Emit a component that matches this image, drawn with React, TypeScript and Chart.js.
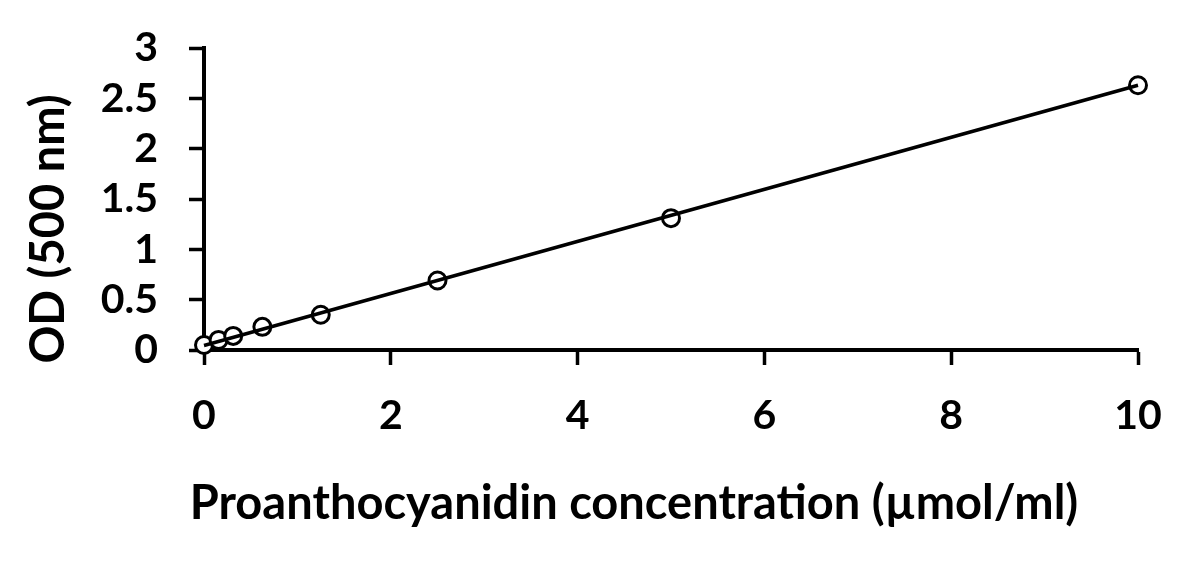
import React, { useEffect, useRef } from "react";
import { Chart, registerables } from "chart.js";

Chart.register(...registerables);

// ---- data ----
const concentrations = [0, 0.156, 0.3125, 0.625, 1.25, 2.5, 5, 10];
const odValues = [0.05, 0.1, 0.14, 0.23, 0.35, 0.69, 1.31, 2.63];
const trendX = [0, 10];
const trendY = [0.045, 2.63];
const xTickValues = [0, 2, 4, 6, 8, 10];
const yTickValues = [0, 0.5, 1, 1.5, 2, 2.5, 3];
const xTitle = "Proanthocyanidin concentration (µmol/ml)";
const yTitle = "OD (500 nm)";

const FONT = "Lato";
const W = 1187;
const H = 562;

export default function App() {
  const ref = useRef<HTMLCanvasElement | null>(null);

  useEffect(() => {
    const canvas = ref.current;
    if (!canvas) return;

    const titlePlugin = {
      id: "axisTitles",
      afterDraw(chart: any) {
        const { ctx } = chart;
        ctx.save();
        ctx.fillStyle = "#000";
        ctx.font = `bold 47px ${FONT}`;
        ctx.textAlign = "center";
        ctx.textBaseline = "middle";
        ctx.fillText(xTitle, 634, 504);
        ctx.translate(49, 229);
        ctx.rotate(-Math.PI / 2);
        ctx.fillText(yTitle, 0, 0);
        ctx.restore();
      },
    };

    const chart = new Chart(canvas, {
      type: "scatter",
      data: {
        datasets: [
          {
            type: "line",
            label: "fit",
            data: trendX.map((x, i) => ({ x, y: trendY[i] })),
            borderColor: "#000",
            borderWidth: 3.5,
            pointRadius: 0,
            fill: false,
            order: 0,
            clip: false as any,
          },
          {
            label: "OD",
            data: concentrations.map((x, i) => ({ x, y: odValues[i] })),
            showLine: false,
            pointRadius: 8.5,
            pointBorderWidth: 3,
            pointBackgroundColor: "#fff",
            pointBorderColor: "#000",
            order: 1,
            clip: false as any,
          },
        ],
      },
      options: {
        responsive: false,
        animation: false,
        layout: { padding: { left: 0, top: 48, right: 49, bottom: 0 } },
        plugins: {
          legend: { display: false },
          tooltip: { enabled: false },
        },
        scales: {
          x: {
            type: "linear",
            min: 0,
            max: 10,
            afterBuildTicks: (scale: any) => {
              scale.ticks = xTickValues.map((v) => ({ value: v }));
            },
            afterFit: (scale: any) => {
              scale.height = H - 350;
              scale.paddingLeft = 0;
              scale.paddingRight = 0;
            },
            grid: {
              drawOnChartArea: false,
              drawTicks: true,
              tickLength: 15,
              tickWidth: 3.5,
              tickColor: "#000",
            },
            border: { display: true, color: "#000", width: 4 },
            ticks: {
              color: "#000",
              padding: 26,
              maxRotation: 0,
              autoSkip: false,
              font: { family: FONT, size: 41, weight: "bold" },
              callback: (v: any) => String(v),
            },
          },
          y: {
            type: "linear",
            min: 0,
            max: 3,
            afterBuildTicks: (scale: any) => {
              scale.ticks = yTickValues.map((v) => ({ value: v }));
            },
            afterFit: (scale: any) => {
              scale.width = 204;
              scale.paddingTop = 0;
              scale.paddingBottom = 0;
            },
            grid: {
              drawOnChartArea: false,
              drawTicks: true,
              tickLength: 15,
              tickWidth: 3.5,
              tickColor: "#000",
            },
            border: { display: true, color: "#000", width: 4 },
            ticks: {
              color: "#000",
              padding: 31,
              autoSkip: false,
              font: { family: FONT, size: 41, weight: "bold" },
              callback: (v: any) => String(v),
            },
          },
        },
      },
      plugins: [titlePlugin],
    });

    return () => chart.destroy();
  }, []);

  return (
    <div
      style={{
        position: "fixed",
        left: 0,
        top: 0,
        width: W,
        height: H,
        background: "#fff",
      }}
    >
      <canvas ref={ref} width={W} height={H} style={{ width: W, height: H }} />
    </div>
  );
}
